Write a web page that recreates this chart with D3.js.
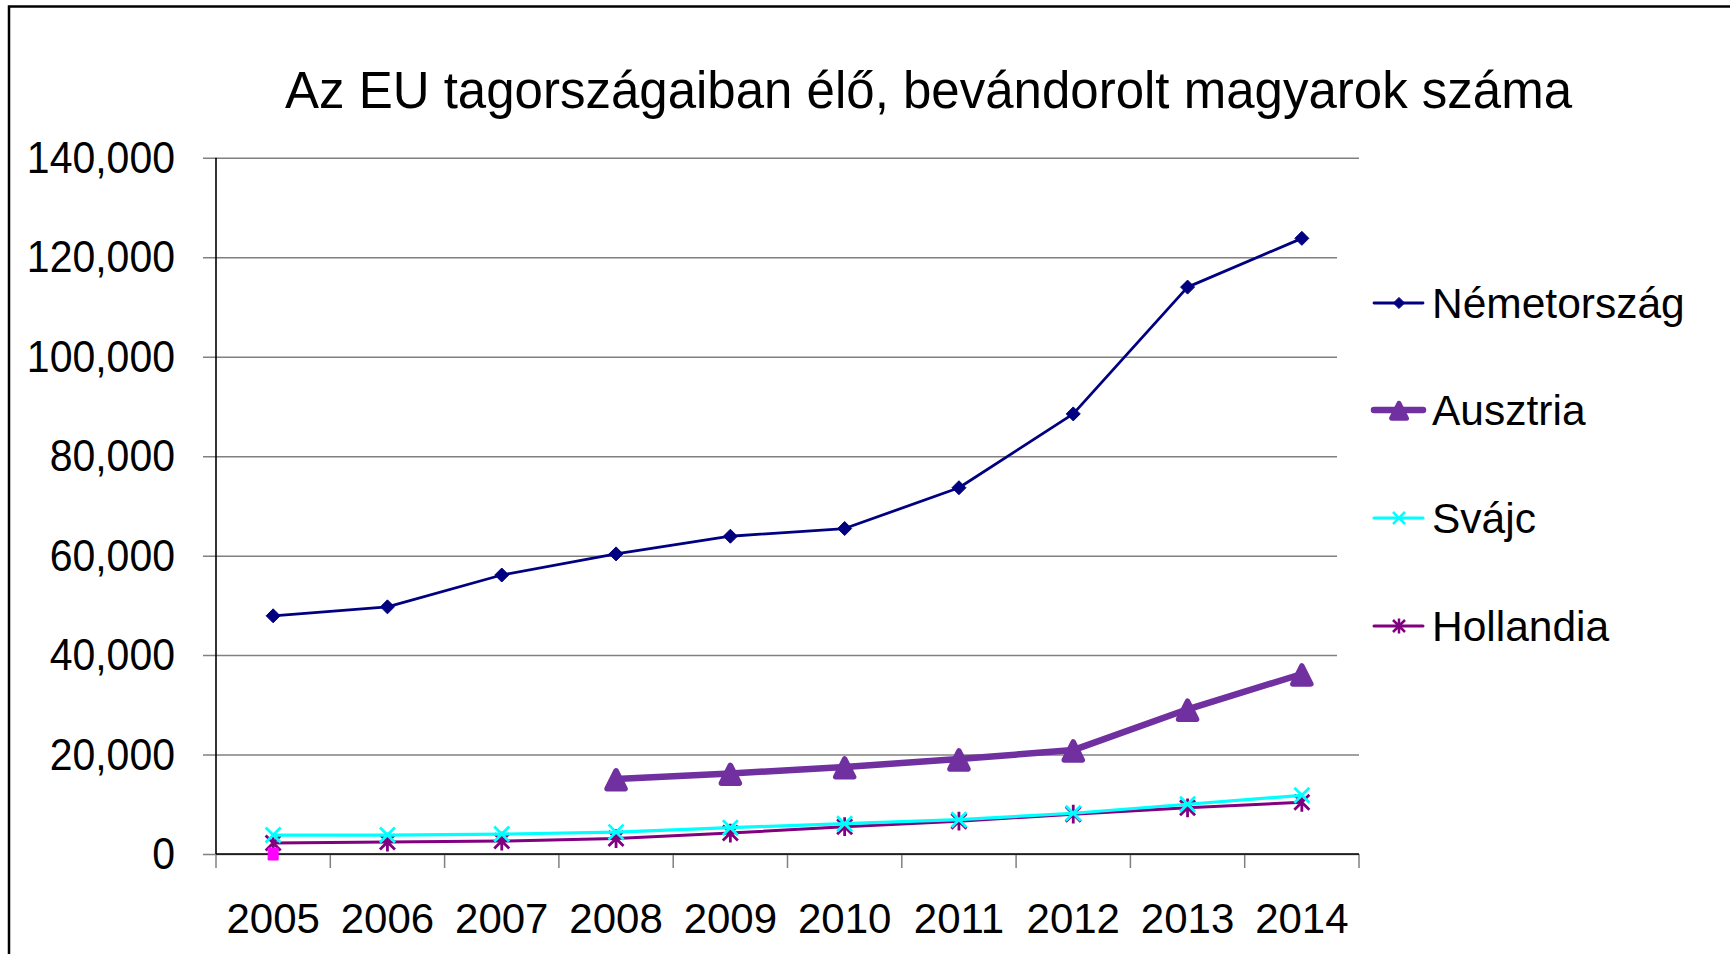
<!DOCTYPE html>
<html>
<head>
<meta charset="utf-8">
<script src="https://cdn.jsdelivr.net/npm/d3@7/dist/d3.min.js"></script>
<style>
html,body{margin:0;padding:0;background:#fff;}
svg{display:block;font-family:"Liberation Sans",Arial,sans-serif;}
</style>
</head>
<body>
<svg id="chart" width="1730" height="954"></svg>
<script>
const years = ["2005","2006","2007","2008","2009","2010","2011","2012","2013","2014"];
const yTicks = [0,20000,40000,60000,80000,100000,120000,140000];
const titleText = "Az EU tagországaiban élő, bevándorolt magyarok száma";

const nemetorszag = [47900,49700,56100,60350,63900,65450,73650,88500,114000,123800];
const ausztria    = [null,null,null,15100,16200,17500,19100,20900,29100,36200];
const svajc       = [3800,3800,4000,4400,5300,6100,6900,8200,10000,11800];
const hollandia   = [2200,2400,2600,3100,4200,5500,6600,8000,9300,10400];
const egyeb       = [0,null,null,null,null,null,null,null,null,null];

const seriesNames = ["Németország","Ausztria","Svájc","Hollandia"];

const svg = d3.select("#chart");
const W = 1730, H = 954;
const plot = {left:216, right:1359, top:157.8, bottom:854};

// outer frame
svg.append("rect").attr("x",9).attr("y",6.5).attr("width",W+40).attr("height",H+40)
  .attr("fill","#fff").attr("stroke","#000").attr("stroke-width",2.5);

const x = d3.scaleBand().domain(years).range([plot.left, plot.right]);
const y = d3.scaleLinear().domain([0,140000]).range([plot.bottom, plot.top]);

// title
svg.append("text").attr("x",928.5).attr("y",108).attr("text-anchor","middle")
  .attr("font-size",51).attr("fill","#000").text(titleText);

// gridlines + y axis
const yAxis = d3.axisLeft(y).tickValues(yTicks).tickSize(plot.right-plot.left+13)
  .tickFormat(d3.format(","));
const gy = svg.append("g").attr("transform",`translate(${plot.right},0)`).call(yAxis);
gy.select(".domain").remove();
gy.selectAll(".tick line").attr("stroke","#808080").attr("stroke-width",1.5);
gy.selectAll(".tick text").remove();
// y labels (slightly tall glyphs like the original)
const sy = 1.1;
svg.append("g").selectAll("text").data(yTicks).join("text")
  .attr("text-anchor","end").attr("font-size",41).attr("fill","#000")
  .attr("transform",d=>`translate(175,${y(d)+15}) scale(1,${sy})`)
  .text(d3.format(","));

// x axis
const xAxis = d3.axisBottom(x).tickSize(0).tickPadding(49);
const gx = svg.append("g").attr("transform",`translate(0,${plot.bottom})`).call(xAxis);
gx.select(".domain").remove();
gx.selectAll(".tick text").attr("font-size",42).attr("fill","#000")
  .attr("font-family","Liberation Sans, Arial, sans-serif");
// category boundary ticks
const bounds = years.map(d=>x(d)).concat([plot.right]);
svg.append("g").selectAll("line").data(bounds).join("line")
  .attr("x1",d=>d).attr("x2",d=>d).attr("y1",plot.bottom).attr("y2",plot.bottom+14)
  .attr("stroke","#808080").attr("stroke-width",1.5);

// legend background (covers gridlines like Excel)
svg.append("rect").attr("x",1337).attr("y",205).attr("width",390).attr("height",500).attr("fill","#fff");

// axis lines
svg.append("line").attr("x1",plot.left).attr("x2",plot.right).attr("y1",plot.bottom).attr("y2",plot.bottom)
  .attr("stroke","#000").attr("stroke-width",1.6);
svg.append("line").attr("x1",plot.left).attr("x2",plot.left).attr("y1",plot.top).attr("y2",plot.bottom)
  .attr("stroke","#000").attr("stroke-width",1.6);

const cx = d => x(d) + x.bandwidth()/2;

function markerPath(type, s){
  if(type==="diamond") return `M0,${-s}L${s},0L0,${s}L${-s},0Z`;
  if(type==="triangle") return `M0,${-s*0.9}L${s},${s*1.1}L${-s},${s*1.1}Z`;
  if(type==="x") return `M${-s},${-s}L${s},${s}M${-s},${s}L${s},${-s}`;
  if(type==="star") return `M${-s},${-s}L${s},${s}M${-s},${s}L${s},${-s}M0,${-s*1.25}L0,${s*1.25}`;
  if(type==="square") return `M${-s},${-s*1.2}L${s},${-s*1.2}L${s},${s*1.2}L${-s},${s*1.2}Z`;
}

const series = [
  {name:seriesNames[0], values:nemetorszag, color:"#000080", width:2.8, marker:"diamond", ms:7, fill:true, mstroke:1},
  {name:seriesNames[1], values:ausztria, color:"#7030A0", width:6.5, marker:"triangle", ms:9, fill:true, mstroke:5.5},
  {name:seriesNames[2], values:svajc, color:"#00FFFF", width:3.2, marker:"x", ms:7.5, fill:false, mstroke:2.8},
  {name:seriesNames[3], values:hollandia, color:"#800080", width:3, marker:"star", ms:7.5, fill:false, mstroke:2.8}
];

const line = d3.line().defined(d=>d.v!=null).x(d=>cx(d.year)).y(d=>y(d.v));

// draw from back: Hollandia, Svájc, Ausztria, Németország
[3,2,1,0].forEach(i=>{
  const s = series[i];
  const pts = years.map((yr,j)=>({year:yr, v:s.values[j]}));
  svg.append("path").datum(pts).attr("d",line).attr("fill","none")
    .attr("stroke",s.color).attr("stroke-width",s.width).attr("stroke-linejoin","round").attr("stroke-linecap","round");
  svg.append("g").selectAll("path").data(pts.filter(d=>d.v!=null)).join("path")
    .attr("transform",d=>`translate(${cx(d.year)},${y(d.v)})`)
    .attr("d",markerPath(s.marker,s.ms))
    .attr("fill",s.fill?s.color:"none").attr("stroke",s.color).attr("stroke-width",s.mstroke)
    .attr("stroke-linejoin","round");
});

// extra single point (magenta square)
svg.append("g").selectAll("path").data(years.map((yr,j)=>({year:yr,v:egyeb[j]})).filter(d=>d.v!=null)).join("path")
  .attr("transform",d=>`translate(${cx(d.year)},${y(d.v)})`)
  .attr("d",markerPath("square",5)).attr("fill","#FF00FF").attr("stroke","#FF00FF").attr("stroke-width",1);

// legend
const legY = [303,410,518,626];
const lg = svg.append("g");
series.forEach((s,i)=>{
  const g = lg.append("g").attr("transform",`translate(0,${legY[i]})`);
  g.append("line").attr("x1",1374).attr("x2",1423).attr("y1",0).attr("y2",0)
    .attr("stroke",s.color).attr("stroke-width",s.width).attr("stroke-linecap","round");
  g.append("path").attr("transform",`translate(1399,0)`)
    .attr("d",markerPath(s.marker, s.marker==="triangle"?7.5:s.ms*0.8))
    .attr("fill",s.fill?s.color:"none").attr("stroke",s.color).attr("stroke-width",s.mstroke*0.9)
    .attr("stroke-linejoin","round");
  g.append("text").attr("x",1432).attr("y",0).attr("dy","0.36em").attr("font-size",42.5)
    .attr("fill","#000").text(s.name);
});
</script>
</body>
</html>
